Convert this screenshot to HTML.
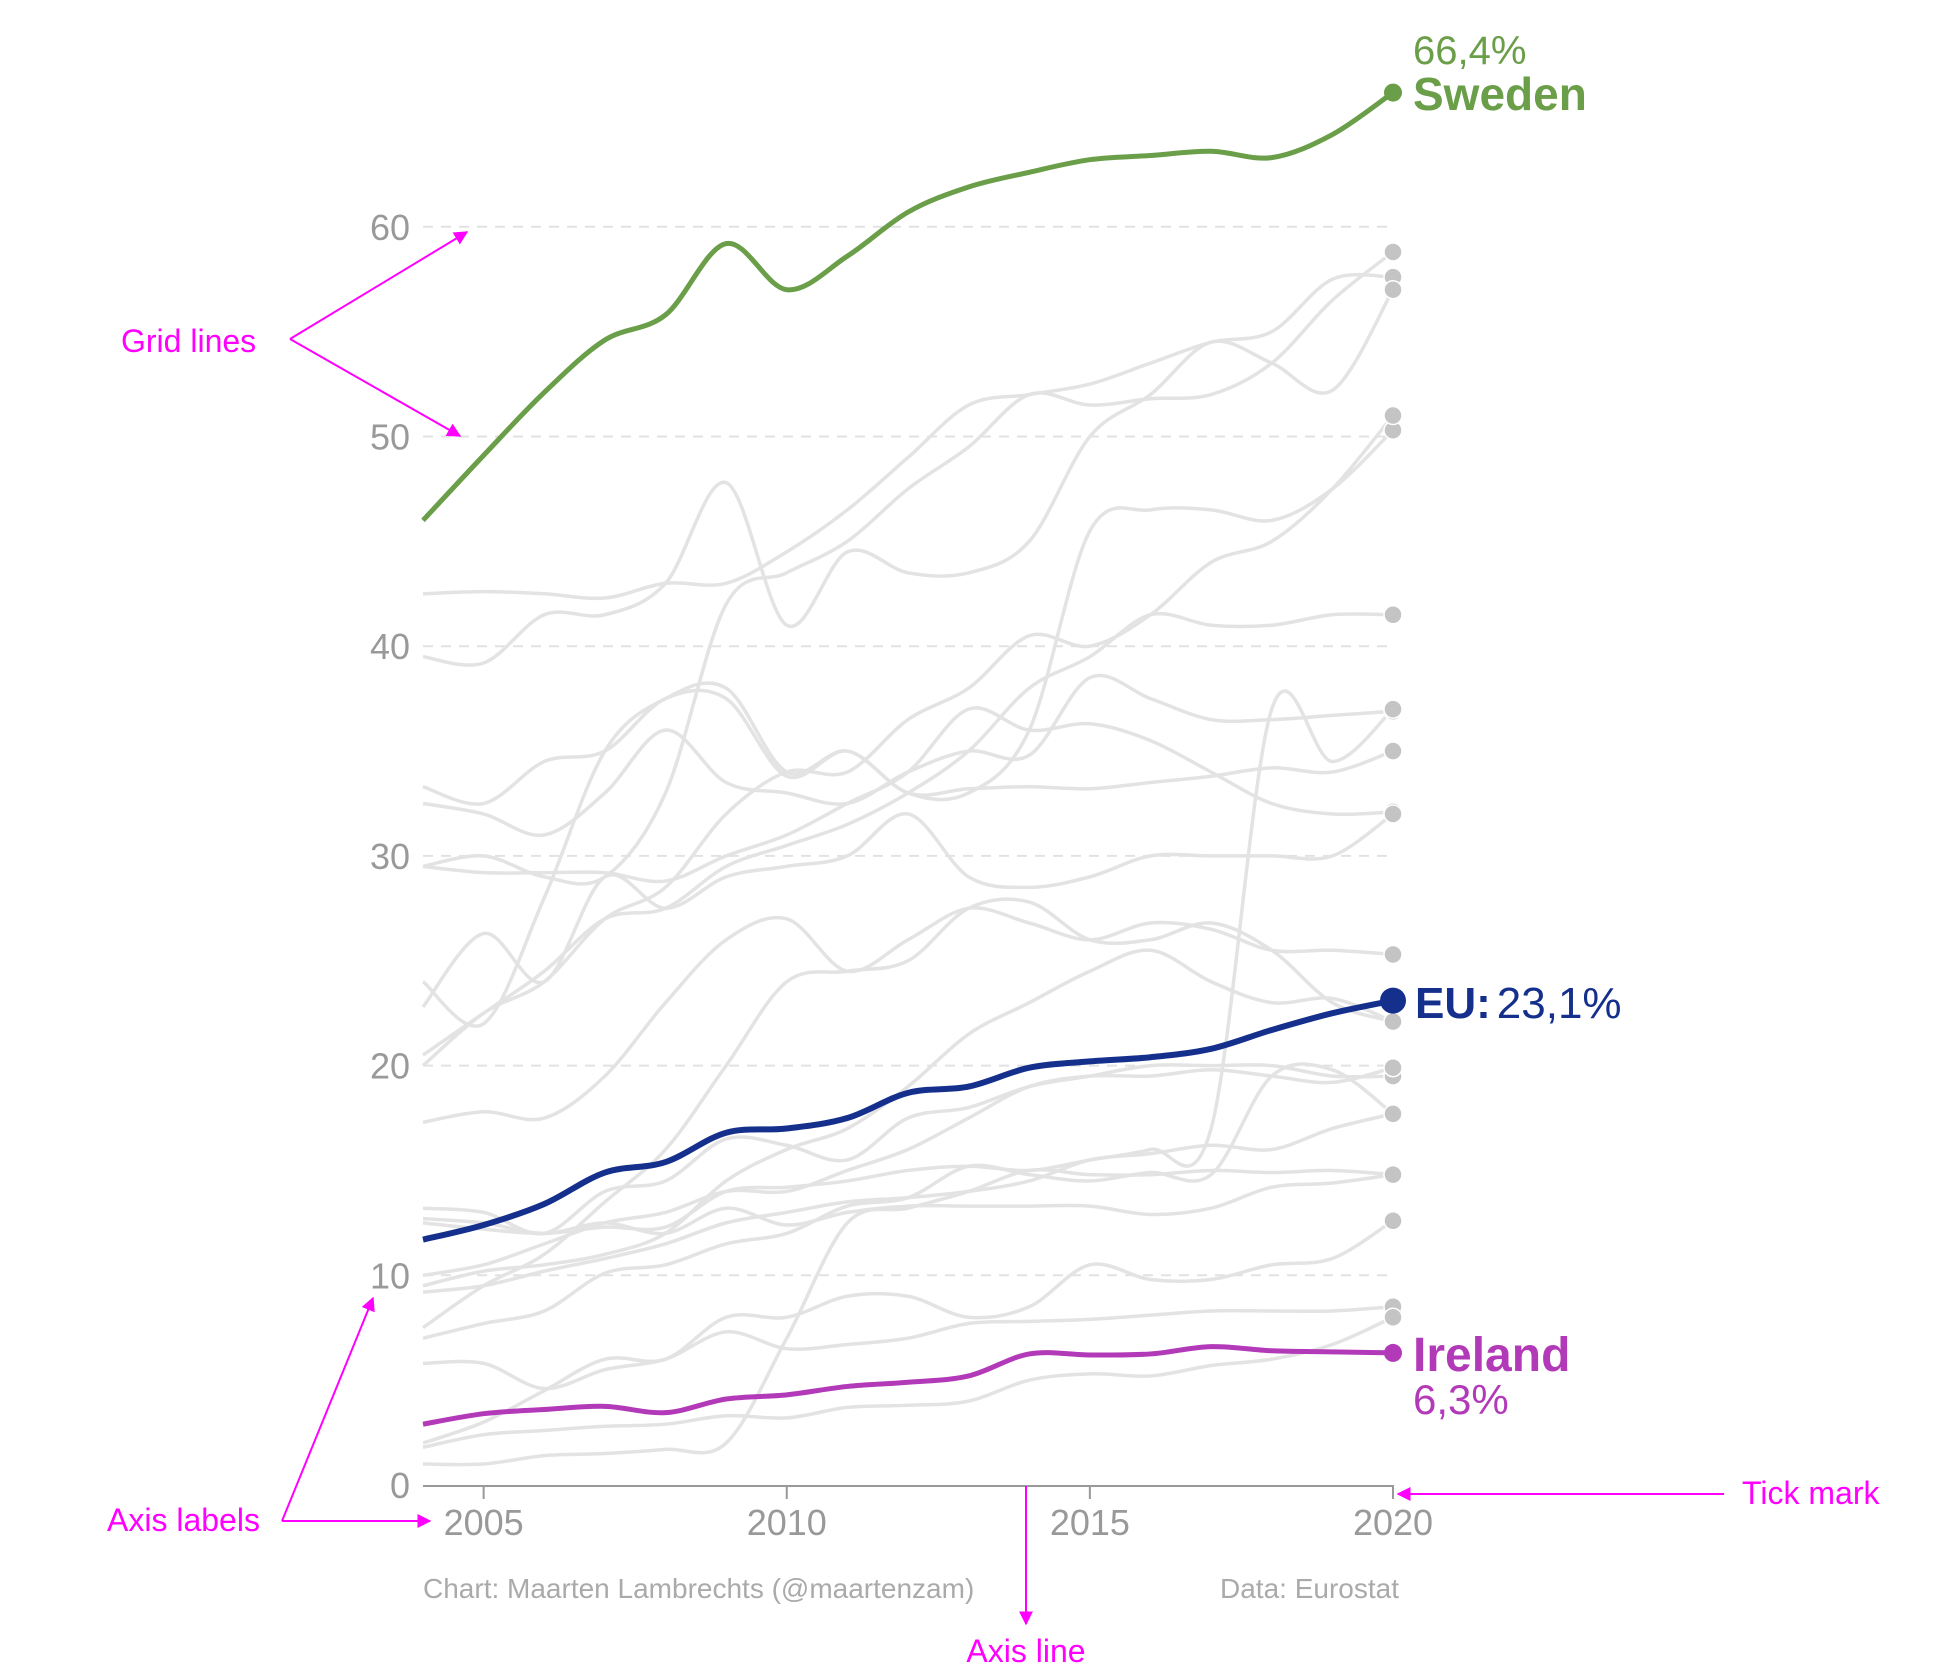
<!DOCTYPE html>
<html><head><meta charset="utf-8">
<style>
html,body{margin:0;padding:0;background:#fff;}
svg{display:block;font-family:"Liberation Sans",sans-serif;}
</style></head>
<body>
<svg id="chart" width="1958" height="1668" viewBox="0 0 1958 1668" xmlns="http://www.w3.org/2000/svg">
<defs>
<marker id="arr" viewBox="0 0 10 10" refX="9" refY="5" markerWidth="7" markerHeight="7" orient="auto-start-reverse">
<path d="M0,0 L10,5 L0,10 z" fill="#ff00ff"/></marker>
</defs>
<g id="grid"></g>
<g id="yticks"></g>
<g id="xaxis"></g>
<g id="gray"></g>
<g id="hl"></g>
<g id="labels">
<text x="1413" y="64" font-size="40" fill="#6a9e48">66,4%</text>
<text x="1413" y="110" font-size="46" font-weight="bold" fill="#6a9e48">Sweden</text>
<text x="1415" y="1018" font-size="44" fill="#14308c"><tspan font-weight="bold">EU:</tspan><tspan dx="6">23,1%</tspan></text>
<text x="1413" y="1371" font-size="48" font-weight="bold" fill="#b23ab8">Ireland</text>
<text x="1413" y="1414" font-size="42" fill="#b23ab8">6,3%</text>
</g>
<g font-size="28" fill="#aaaaaa">
<text x="423" y="1598">Chart: Maarten Lambrechts (@maartenzam)</text>
<text x="1220" y="1598">Data: Eurostat</text>
</g>
<g fill="#ff00ff" font-size="32">
<text x="121" y="352">Grid lines</text>
<path d="M290,339 L467,232" stroke="#ff00ff" stroke-width="2" fill="none" marker-end="url(#arr)"/>
<path d="M290,339 L460,436" stroke="#ff00ff" stroke-width="2" fill="none" marker-end="url(#arr)"/>
<text x="107" y="1531">Axis labels</text>
<path d="M282,1521 L373,1298" stroke="#ff00ff" stroke-width="2" fill="none" marker-end="url(#arr)"/>
<path d="M282,1521 L430,1521" stroke="#ff00ff" stroke-width="2" fill="none" marker-end="url(#arr)"/>
<text x="1742" y="1504">Tick mark</text>
<path d="M1724,1494 L1398,1494" stroke="#ff00ff" stroke-width="2" fill="none" marker-end="url(#arr)"/>
<path d="M1026,1486 L1026,1624" stroke="#ff00ff" stroke-width="2" fill="none" marker-end="url(#arr)"/>
<text x="1026" y="1662" text-anchor="middle">Axis line</text>
</g>
</svg>
<script>
const years=[2004,2005,2006,2007,2008,2009,2010,2011,2012,2013,2014,2015,2016,2017,2018,2019,2020];
const yTicks=[0,10,20,30,40,50,60];
const xTicks=[2005,2010,2015,2020];
const sweden=[46,49.1,52.1,54.6,55.8,59.2,57.0,58.6,60.7,61.9,62.6,63.2,63.4,63.6,63.3,64.4,66.4];
const eu=[11.7,12.4,13.4,14.9,15.4,16.8,17.0,17.5,18.7,19.0,19.9,20.2,20.4,20.8,21.7,22.5,23.1];
const ireland=[2.9,3.4,3.6,3.75,3.45,4.1,4.3,4.7,4.9,5.2,6.25,6.2,6.25,6.6,6.4,6.35,6.3];
const g1=[42.5,42.6,42.5,42.3,43,43,44.5,46.5,49,51.5,52,52.5,53.5,54.5,55,57.5,57.6];
const g2=[39.5,39.2,41.5,41.5,43,47.8,41,44.5,43.5,43.5,45,50,52,54.5,53.5,52.2,57];
const g3=[29.5,30,29,29,33,42,43.5,45,47.5,49.5,52,51.5,51.8,52,53.5,56.5,58.8];
const g4=[24,22,28,35,37.5,38,34,35,33,33,36,45.5,46.5,46.5,46,47.5,50.3];
const g5=[20,22.5,24,27,28.5,32,34,34,36.5,38,40.5,40,41.5,44,45,47.5,51];
const g6=[20.5,22.5,24.5,27,27.5,29.5,30.5,31.5,33,35,38,39.5,41.5,41,41,41.5,41.5];
const g7=[33.3,32.5,34.5,35,37.5,37.5,33.8,35,33,33.2,33.3,33.2,33.5,33.8,34.2,34,35];
const g8=[32.5,32,31,33,36,33.5,33,32.5,34,35,34.8,38.5,37.5,36.5,36.5,36.7,36.9];
const g9=[29.5,29.2,29.2,29.2,28.8,30,31,32.5,34,37,36,36.3,35.5,34,32.5,32,32.1];
const g10=[22.8,26.3,24,29,27.5,29,29.5,30,32,29,28.5,29,30,30,30,30,32];
const g11=[17.3,17.8,17.5,19.5,23,26,27,24.5,26,27.5,26.8,26,26.8,26.5,25.5,25.5,25.3];
const g12=[12.5,12.2,12,12.3,12.3,14,14.2,14.5,15,15.2,15,15.5,16,17,37,34.5,37];
const g13=[9.5,10.2,10.5,11,12,14.5,16,17,19,21.5,23,24.5,25.5,24,23,23.2,22.1];
const g14=[7.5,9.5,11,13.5,16,20,24,24.5,25,27.5,27.8,26,26,26.8,25.5,23,22.1];
const g15=[13.2,13,12,14,14.5,16.5,16.2,15.5,17.5,18,19,19.5,20,20,20,19.5,19.5];
const g16=[10,10.5,11.5,12.5,13,14,14,15,16,17.5,19,19.5,19.5,19.8,19.5,19.2,19.9];
const g17=[9.2,9.5,10.2,10.8,11.5,12.5,13,13.5,13.7,14,14.5,15.5,15.8,16.2,16,17,17.7];
const g18=[12.7,12.5,12,12.5,12,13.2,12.4,13,13.3,13.3,13.3,13.3,12.9,13.2,14.2,14.4,14.8];
const g19=[7,7.7,8.3,10.1,10.5,11.5,12,13.3,13.7,15.2,14.8,14.5,14.9,14.8,19.5,19.8,17.7];
const g20=[5.8,5.8,4.6,5.5,6,7.3,6.5,6.7,7,7.7,7.8,7.9,8.1,8.3,8.3,8.3,8.5];
const g21=[2,3,4.5,6,6,8,8,9,9,8,8.5,10.5,9.8,9.8,10.5,10.8,12.6];
const g22=[1,1,1.4,1.5,1.7,2,7,12.5,13.2,14,15,14.8,14.8,15,14.9,15,14.8];
const g23=[1.8,2.4,2.6,2.8,2.9,3.3,3.2,3.7,3.8,4,5,5.3,5.2,5.7,6,6.7,8];
const grays=[g1,g2,g3,g4,g5,g6,g7,g8,g9,g10,g11,g12,g13,g14,g15,g16,g17,g18,g19,g20,g21,g22,g23];

const NS="http://www.w3.org/2000/svg";
const X0=423,X1=1393,Y0=1485,PPU=20.97;
function xs(y){return X0+(y-2004)*(X1-X0)/16;}
function ys(v){return Y0-v*PPU;}
function mk(tag,parent){const e=document.createElementNS(NS,tag);parent.appendChild(e);return e;}
function pathD(vals){
  const p=vals.map((v,i)=>[xs(years[i]),ys(v)]);
  let d="M"+p[0][0]+","+p[0][1];
  for(let i=0;i<p.length-1;i++){
    const p0=p[Math.max(0,i-1)],p1=p[i],p2=p[i+1],p3=p[Math.min(p.length-1,i+2)];
    const c1=[p1[0]+(p2[0]-p0[0])/6,p1[1]+(p2[1]-p0[1])/6];
    const c2=[p2[0]-(p3[0]-p1[0])/6,p2[1]-(p3[1]-p1[1])/6];
    d+=" C"+c1[0]+","+c1[1]+" "+c2[0]+","+c2[1]+" "+p2[0]+","+p2[1];
  }
  return d;
}
const grid=document.getElementById('grid'),yt=document.getElementById('yticks'),xa=document.getElementById('xaxis');
yTicks.forEach(t=>{
  if(t>0){const l=mk('line',grid);
    
    
    l.setAttribute('x1',X0);l.setAttribute('x2',X1);l.setAttribute('y1',ys(t));l.setAttribute('y2',ys(t));
    l.setAttribute('stroke','#e2e2e2');l.setAttribute('stroke-width','2');l.setAttribute('stroke-dasharray','10,8');}
  const tx=mk('text',yt);
  
  
  tx.setAttribute('x',410);tx.setAttribute('y',ys(t)+13);tx.setAttribute('text-anchor','end');
  tx.setAttribute('font-size','36');tx.setAttribute('fill','#999');tx.textContent=t;
});
const ax=mk('line',xa);


ax.setAttribute('x1',X0);ax.setAttribute('x2',X1);ax.setAttribute('y1',Y0+1);ax.setAttribute('y2',Y0+1);
ax.setAttribute('stroke','#999');ax.setAttribute('stroke-width','2');
xTicks.forEach(t=>{
  const l=mk('line',xa);
  
  
  l.setAttribute('x1',xs(t));l.setAttribute('x2',xs(t));l.setAttribute('y1',Y0);l.setAttribute('y2',Y0+14);
  l.setAttribute('stroke','#999');l.setAttribute('stroke-width','2');
  const tx=mk('text',xa);
  
  
  tx.setAttribute('x',xs(t));tx.setAttribute('y',Y0+50);tx.setAttribute('text-anchor','middle');
  tx.setAttribute('font-size','36');tx.setAttribute('fill','#999');tx.textContent=t;
});
const gg=document.getElementById('gray');
grays.forEach((s,i)=>{
  const p=mk('path',gg);
  
  
  p.setAttribute('d',pathD(s));p.setAttribute('fill','none');p.setAttribute('stroke','#e3e3e3');p.setAttribute('stroke-width','3.5');
});
grays.forEach((s,i)=>{
  const c=mk('circle',gg);
  
  
  c.setAttribute('cx',xs(2020));c.setAttribute('cy',ys(s[s.length-1]));c.setAttribute('r','9');
  c.setAttribute('fill','#c4c4c4');c.setAttribute('stroke','#fff');c.setAttribute('stroke-width','1.5');
});
const hl=document.getElementById('hl');
[[sweden,'#6a9e48',5,9,'sweden'],[ireland,'#b23ab8',5,9,'ireland'],[eu,'#14308c',6,13,'eu']].forEach(([s,c,w,r,n])=>{
  const p=mk('path',hl);
  
  
  p.setAttribute('d',pathD(s));p.setAttribute('fill','none');p.setAttribute('stroke',c);p.setAttribute('stroke-width',w);
  const d=mk('circle',hl);
  
  
  d.setAttribute('cx',xs(2020));d.setAttribute('cy',ys(s[s.length-1]));d.setAttribute('r',r);d.setAttribute('fill',c);
});
</script>
</body></html>
